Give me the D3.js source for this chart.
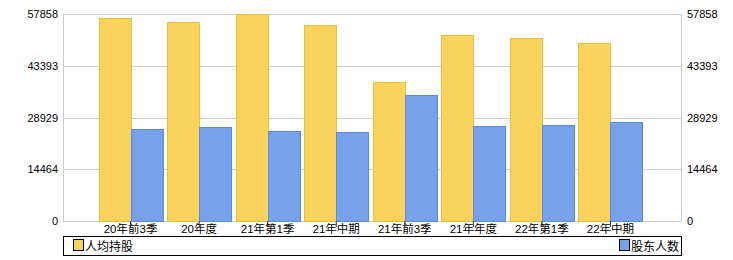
<!DOCTYPE html>
<html>
<head>
  <meta charset="utf-8">
  <style>
    body { margin: 0; background: #fff; }
    text { font-family: "Liberation Sans", "Noto Sans CJK SC", sans-serif; fill: #000; }
  </style>
</head>
<body>
  <svg id="chart" width="733" height="260"></svg>
  <script src="https://d3js.org/d3.v7.min.js"></script>
  <script>
    // data
    const categories = ["20年前3季", "20年度", "21年第1季", "21年中期", "21年前3季", "21年年度", "22年第1季", "22年中期"];
    const avgHolding = [56650, 55540, 57858, 54700, 38770, 51900, 51070, 49670];
    const holders = [25630, 26270, 25070, 25000, 35130, 26470, 26750, 27590];
    const tickValues = [0, 14464, 28929, 43393, 57858];
    const seriesNames = ["人均持股", "股东人数"];

    const width = 733, height = 260;
    const margin = {top: 14, right: 51, bottom: 39, left: 63};
    const x0 = margin.left, x1 = width - margin.right - 1;
    const yTop = margin.top, yBottom = height - margin.bottom;

    const svg = d3.select("#chart");

    const xScale = d3.scaleBand()
      .domain(categories)
      .range([x0 - 1, x1 - 2])
      .paddingInner(0)
      .paddingOuter(0.5);

    const yScale = d3.scaleLinear()
      .domain([0, 57858])
      .range([yBottom, yTop]);

    // grid lines
    svg.append("g")
      .selectAll("line")
      .data(tickValues)
      .enter()
      .append("line")
      .attr("x1", x0)
      .attr("x2", x1)
      .attr("y1", d => Math.round(yScale(d)) + 0.5)
      .attr("y2", d => Math.round(yScale(d)) + 0.5)
      .attr("stroke", "#cccccc");

    // side axis lines
    [x0, x1].forEach(xx => {
      svg.append("line")
        .attr("x1", xx + 0.5).attr("x2", xx + 0.5)
        .attr("y1", yTop).attr("y2", yBottom + 1)
        .attr("stroke", "#cccccc");
    });

    const barW = 32;
    const colors = [{fill: "#f9d35b", stroke: "#e3c03d"}, {fill: "#77a1ea", stroke: "#5b8cdc"}];

    const center = d => xScale(d) + xScale.bandwidth() / 2;

    // yellow bars
    svg.append("g")
      .selectAll("rect")
      .data(categories)
      .enter()
      .append("rect")
      .attr("x", d => Math.round(center(d)) - barW + 0.5)
      .attr("y", (d, i) => Math.round(yScale(avgHolding[i])) + 0.5)
      .attr("width", barW)
      .attr("height", (d, i) => yBottom - Math.round(yScale(avgHolding[i])))
      .attr("fill", colors[0].fill)
      .attr("stroke", colors[0].stroke);

    // blue bars
    svg.append("g")
      .selectAll("rect")
      .data(categories)
      .enter()
      .append("rect")
      .attr("x", d => Math.round(center(d)) + 0.5)
      .attr("y", (d, i) => Math.round(yScale(holders[i])) + 0.5)
      .attr("width", barW)
      .attr("height", (d, i) => yBottom - Math.round(yScale(holders[i])))
      .attr("fill", colors[1].fill)
      .attr("stroke", colors[1].stroke);

    // y labels left and right
    const fmt = d3.format("d");
    const leftAxis = d3.axisLeft(yScale).tickValues(tickValues).tickFormat(fmt).tickSize(0).tickPadding(5);
    const rightAxis = d3.axisRight(yScale).tickValues(tickValues).tickFormat(fmt).tickSize(0).tickPadding(6);

    const gl = svg.append("g").attr("transform", `translate(${x0},0)`).call(leftAxis);
    const gr = svg.append("g").attr("transform", `translate(${x1},0)`).call(rightAxis);
    [gl, gr].forEach(g => {
      g.select(".domain").remove();
      g.selectAll("text").attr("font-size", 11).attr("font-family", "Liberation Sans, sans-serif");
    });

    // x axis
    const xAxis = d3.axisBottom(xScale).tickSize(6).tickPadding(2);
    const gx = svg.append("g").attr("transform", `translate(0,${yBottom})`).call(xAxis);
    gx.select(".domain").remove();
    gx.selectAll(".tick line").attr("stroke", "#333");
    gx.selectAll("text").attr("font-size", 11.5).attr("y", 4).attr("dy", "0.72em");

    // legend
    const legend = svg.append("g");
    legend.append("rect")
      .attr("x", x0 + 0.5).attr("y", 236.5)
      .attr("width", x1 - x0).attr("height", 19)
      .attr("fill", "#fff").attr("stroke", "#000");

    const legendItems = [
      {name: seriesNames[0], color: colors[0].fill, x: x0 + 10},
      {name: seriesNames[1], color: colors[1].fill, x: 619}
    ];
    legendItems.forEach(item => {
      legend.append("rect")
        .attr("x", item.x + 0.5).attr("y", 239.5)
        .attr("width", 10).attr("height", 11)
        .attr("fill", item.color).attr("stroke", "#000");
      legend.append("text")
        .attr("x", item.x + 12).attr("y", 251)
        .attr("font-size", 12)
        .text(item.name);
    });
  </script>
</body>
</html>
